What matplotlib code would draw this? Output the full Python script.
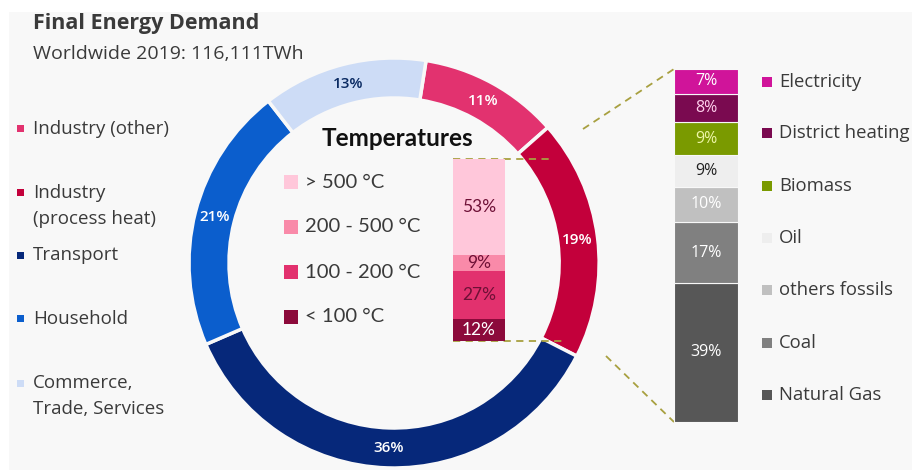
import matplotlib
matplotlib.use("Agg")
import matplotlib.pyplot as plt
from matplotlib.patches import Rectangle

# ---- data ----
sectors = ["Industry (other)", "Industry\n(process heat)", "Transport", "Household",
           "Commerce,\nTrade, Services"]
sector_share = [11, 19, 36, 21, 13]
sector_colors = ["#e2326f", "#c3003b", "#06287a", "#0b5ecd", "#cddcf6"]
sector_text = ["white", "white", "white", "white", "#0a2a62"]

temp_labels = ["> 500 °C", "200 - 500 °C", "100 - 200 °C", "< 100 °C"]
temp_share = [53, 9, 27, 12]
temp_colors = ["#ffc7da", "#f98aa9", "#e2316e", "#8c0a3b"]
temp_text = ["#6e1036", "#6e1036", "#6e1036", "white"]

source_labels = ["Electricity", "District heating", "Biomass", "Oil",
                 "others fossils", "Coal", "Natural Gas"]
source_share = [7, 8, 9, 9, 10, 17, 39]
source_colors = ["#d0149a", "#7a0a50", "#7a9a00", "#eeeeee", "#c0c0c0", "#808080", "#575757"]
source_text = ["white", "#ffd0ec", "#eef5a8", "#222222", "white", "white", "white"]

W, H = 914, 470
FONT = "Open Sans"
TXT = "#3a3a3a"

fig = plt.figure(figsize=(W / 100, H / 100), dpi=100, facecolor="white")
ax = fig.add_axes([0, 0, 1, 1])


def Y(y):
    # convert top-down pixel row to axis coordinate
    return H - y


ax.add_patch(Rectangle((9, 0), 903, H - 12, facecolor="#f8f8f8", edgecolor="none", zorder=0))

# ---- donut ----
cx, cy, R, ring = 394, Y(263), 205, 40
explode = [0, 29 / R, 0, 0, 0]
wedges, _, autotexts = ax.pie(
    sector_share, colors=sector_colors, startangle=81, counterclock=False,
    center=(cx, cy), radius=R, explode=explode, frame=True,
    autopct="%d%%", pctdistance=(R - ring / 2) / R,
    wedgeprops=dict(width=ring, edgecolor="#f8f8f8", linewidth=2.5),
    textprops=dict(fontsize=11, family=FONT, fontweight="semibold"))
for t, c in zip(autotexts, sector_text):
    t.set_color(c)
    t.set_zorder(5)

# ---- titles ----
ax.text(33, Y(23), "Final Energy Demand", fontsize=15.5, fontweight="bold",
        family=FONT, color="#3a3a3a", va="center", ha="left")
ax.text(33, Y(54), "Worldwide 2019: 116,111TWh", fontsize=14,
        family=FONT, color="#3a3a3a", va="center", ha="left")

# ---- left legend ----
left_rows = [128, 192, 255, 318, 383]
for lab, col, yr in zip(sectors, sector_colors, left_rows):
    ax.add_patch(Rectangle((17, Y(yr) - 3.5), 7, 7, facecolor=col, edgecolor="none"))
    for i, line in enumerate(lab.split("\n")):
        ax.text(33, Y(yr + 26 * i) - 5.5, line, fontsize=13.5, family=FONT,
                color=TXT, va="baseline", ha="left")

# ---- temperature block ----
ax.text(397, Y(138), "Temperatures", fontsize=17.5, fontweight="bold",
        family="Lato", color="#111111", va="center", ha="center")
temp_rows = [182, 227, 272, 317]
for lab, col, yr in zip(temp_labels, temp_colors, temp_rows):
    ax.add_patch(Rectangle((284, Y(yr) - 7), 14, 14, facecolor=col, edgecolor="none"))
    ax.text(305, Y(yr), lab, fontsize=14.6, family="Lato", color="#3a3a3a",
            va="center", ha="left")

tx0, tx1, ty0, ty1 = 453, 505, 159, 341
tax = fig.add_axes([tx0 / W, Y(ty1) / H, (tx1 - tx0) / W, (ty1 - ty0) / H])
bottom = 0
for v, col, tc in zip(temp_share[::-1], temp_colors[::-1], temp_text[::-1]):
    tax.bar(0, v, bottom=bottom, width=1, color=col, edgecolor="none")
    tax.text(0, bottom + v / 2, f"{v}%", ha="center", va="center", fontsize=12.5,
             family="Lato", color=tc)
    bottom += v
tax.set_xlim(-0.5, 0.5)
tax.set_ylim(0, sum(temp_share))
tax.axis("off")

# ---- sources bar ----
sx0, sx1, sy0, sy1 = 674, 738, 69, 422
sax = fig.add_axes([sx0 / W, Y(sy1) / H, (sx1 - sx0) / W, (sy1 - sy0) / H])
bottom = 0
for v, col, tc in zip(source_share[::-1], source_colors[::-1], source_text[::-1]):
    sax.bar(0, v, bottom=bottom, width=1, color=col, edgecolor="#f8f8f8", linewidth=0.8)
    sax.text(0, bottom + v / 2, f"{v}%", ha="center", va="center", fontsize=11.5,
             family=FONT, color=tc)
    bottom += v
sax.set_xlim(-0.5, 0.5)
sax.set_ylim(0, sum(source_share))
sax.axis("off")

right_rows = [82, 133, 186, 238, 290, 343, 395]
for lab, col, yr in zip(source_labels, source_colors, right_rows):
    ax.add_patch(Rectangle((762, Y(yr) - 5), 10, 10, facecolor=col, edgecolor="none"))
    ax.text(779, Y(yr), lab, fontsize=13.3, family=FONT, color=TXT, va="center", ha="left")

# ---- dashed connectors ----
dash = dict(color="#a8a040", linestyle=(0, (4, 3)), linewidth=1.3, zorder=4)
ax.plot([tx0, 553], [Y(ty0), Y(ty0)], **dash)
ax.plot([tx0, 565], [Y(ty1), Y(ty1)], **dash)
ax.plot([583, sx0], [Y(129), Y(sy0)], **dash)
ax.plot([606, sx0], [Y(356), Y(sy1)], **dash)

ax.set_xlim(0, W)
ax.set_ylim(0, H)
ax.set_aspect("equal")
ax.axis("off")

fig.savefig("out.png", dpi=100, facecolor="white")
